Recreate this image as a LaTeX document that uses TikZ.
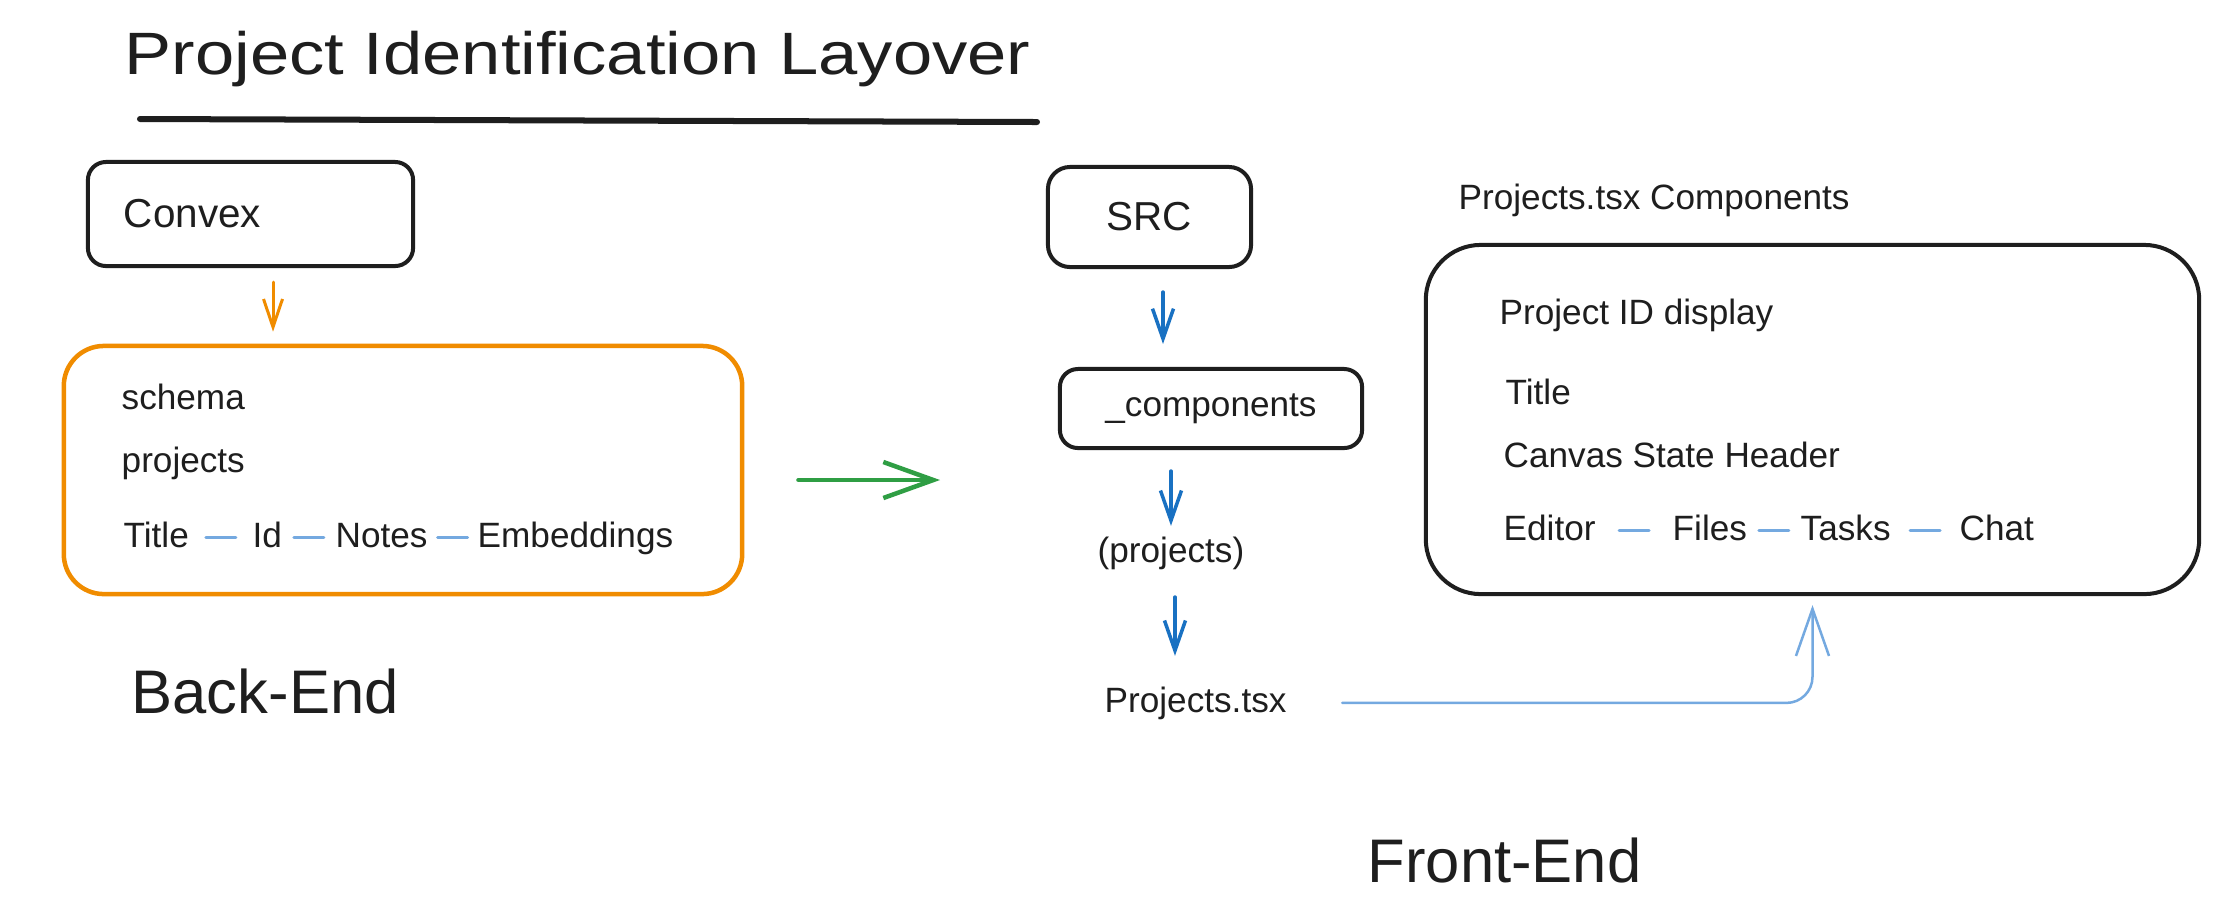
\documentclass[tikz,border=0pt]{standalone}
\usepackage{fontspec}
\setmainfont{Liberation Sans}
\newfontfamily\titlefont[FakeStretch=1.18]{Liberation Sans}
\usetikzlibrary{arrows.meta,calc}
\definecolor{ink}{HTML}{1E1E1E}
\definecolor{orng}{HTML}{F08C00}
\definecolor{grn}{HTML}{2F9E44}
\definecolor{blu}{HTML}{1971C2}
\definecolor{lblu}{RGB}{116,169,224}
\tikzset{
  box/.style={draw=ink, line width=0.4mm, rounded corners=2mm, inner sep=0pt},
  word/.style={inner sep=0pt, text=ink, anchor=base west, font=\fontsize{10}{12}\selectfont},
  bigword/.style={word, font=\fontsize{17.5}{21}\selectfont},
  link/.style={draw=lblu, line width=0.3mm, line cap=round},
  orangearrow/.style={draw=orng, line width=0.3mm, line cap=round, -{Straight Barb[length=2.8mm,width=1.9mm]}},
  bluearrow/.style={draw=blu, line width=0.35mm, line cap=round, -{Straight Barb[length=3mm,width=2.1mm]}},
  greenarrow/.style={draw=grn, line width=0.45mm, line cap=round, -{Straight Barb[length=5mm,width=3.6mm]}},
  lightarrow/.style={draw=lblu, line width=0.25mm, line cap=round, -{Straight Barb[length=4.7mm,width=3.3mm]}}
}
\begin{document}
\begin{tikzpicture}[x=0.01cm,y=-0.01cm]
\fill[white] (0,0) rectangle (2217,923);
\useasboundingbox (0,0) rectangle (2217,923);

% title
\node[word, font=\titlefont\fontsize{17}{20}\selectfont] (title) at (124,74) {Project Identification Layover};
\draw[ink, line width=0.6mm, line cap=round] (140,119) -- (1037,122);

% back end
\node[box, rounded corners=1.8mm, minimum width=3.25cm, minimum height=1.04cm,
      text width=2.53cm, align=left, inner xsep=3.6mm, text=ink,
      font=\fontsize{11.5}{14}\selectfont] (convex) at (250.5,214) {Convex};
\node[draw=orng, line width=0.45mm, rounded corners=4mm, minimum width=6.78cm,
      minimum height=2.48cm, inner sep=0pt] (schemabox) at (403,470) {};
\node[word] (schema) at (121,409) {schema};
\node[word] (projects) at (121,472) {projects};
\node[word] (ttl) at (123,547) {Title};
\node[word] (id) at (252,547) {Id};
\node[word] (notes) at (335,547) {Notes};
\node[word] (emb) at (477,547) {Embeddings};
\draw[link] ($(ttl.mid east)!.5!(id.mid west)+(-15,0)$) -- ++(30,0);
\draw[link] ($(id.mid east)!.5!(notes.mid west)+(-15,0)$) -- ++(30,0);
\draw[link] ($(notes.mid east)!.5!(emb.mid west)+(-15,0)$) -- ++(30,0);
\node[bigword] (backend) at (131,713) {Back-End};

\draw[orangearrow, shorten <=1.4mm, shorten >=1.2mm]
  ([xshift=2.25mm]convex.south) -- ([xshift=2.25mm]convex.south |- schemabox.north);

\coordinate (greenend) at (940,480);
\draw[greenarrow, shorten <=5.4mm] (schemabox.east |- greenend) -- (greenend);

% front end
\node[box, rounded corners=2.2mm, minimum width=2.03cm, minimum height=1cm, text=ink,
      font=\fontsize{11.5}{14}\selectfont] (src) at (1149.5,217) {SRC};
\node[box, rounded corners=1.8mm, minimum width=3.02cm, minimum height=0.79cm, text=ink,
      font=\fontsize{10}{12}\selectfont] (comp) at (1211,408.5) {\_components};
\node[word] (projs) at (1097,562) {(projects)};
\node[word] (ptsx) at (1104,712) {Projects.tsx};

\draw[bluearrow, shorten <=2.3mm, shorten >=2.3mm]
  ([xshift=1.35mm]src.south) -- ([xshift=1.35mm]src.south |- comp.north);
\draw[bluearrow, shorten <=2.1mm, shorten >=1mm]
  (projs.north |- comp.south) -- (projs.north);
\draw[bluearrow, shorten <=2.7mm, shorten >=3mm]
  ([xshift=0.4mm]projs.south) -- ([xshift=0.4mm]projs.south |- ptsx.north);

\node[word] (comphead) at (1458,209) {Projects.tsx Components};
\node[draw=ink, line width=0.4mm, rounded corners=5.5mm, minimum width=7.73cm,
      minimum height=3.49cm, inner sep=0pt] (rightbox) at (1812.5,419.5) {};
\node[word] (pid) at (1499,324) {Project ID display};
\node[word] (rtitle) at (1505,404) {Title};
\node[word] (canvas) at (1503,467) {Canvas State Header};
\node[word] (editor) at (1503,540) {Editor};
\node[word] (files) at (1672,540) {Files};
\node[word] (tasks) at (1800,540) {Tasks};
\node[word] (chat) at (1959,540) {Chat};
\draw[link] ($(editor.mid east)!.5!(files.mid west)+(-15,0)$) -- ++(30,0);
\draw[link] ($(files.mid east)!.5!(tasks.mid west)+(-15,0)$) -- ++(30,0);
\draw[link] ($(tasks.mid east)!.5!(chat.mid west)+(-15,0)$) -- ++(30,0);

\draw[lightarrow, rounded corners=2.6mm, shorten <=5.5mm, shorten >=0.9mm]
  (ptsx.east) -| (rightbox.south);

\node[bigword] (frontend) at (1367,882) {Front-End};
\end{tikzpicture}
\end{document}
